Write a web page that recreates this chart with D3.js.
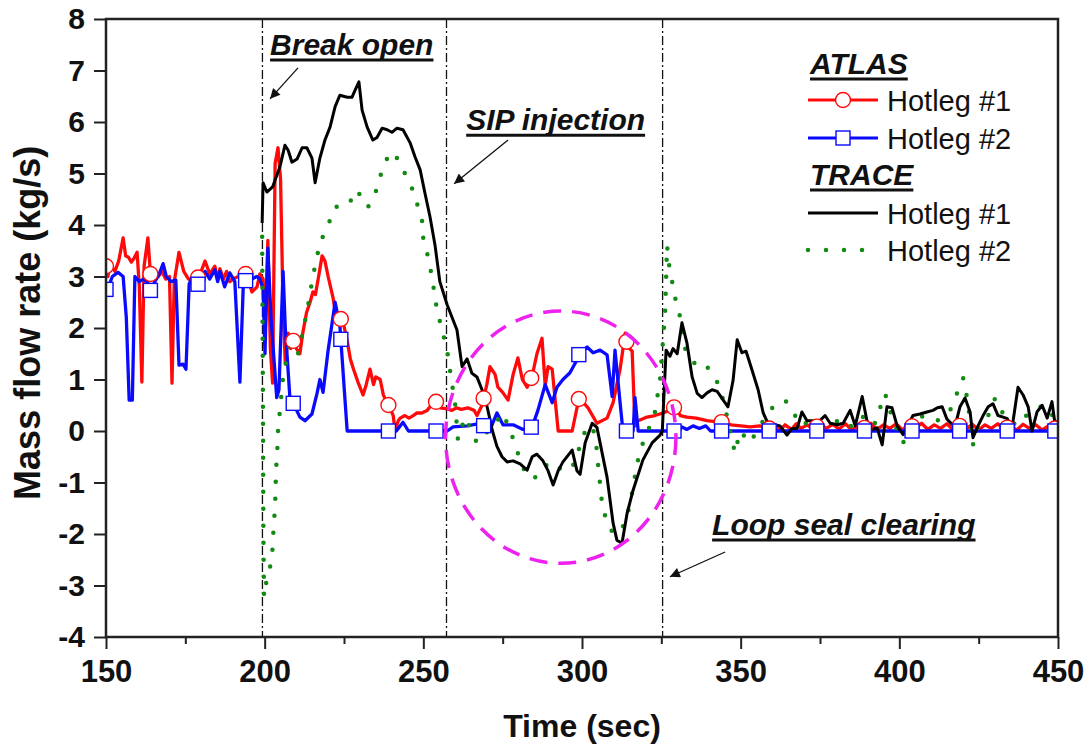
<!DOCTYPE html>
<html lang="en">
<head>
<meta charset="UTF-8">
<title>Mass flow rate - ATLAS vs TRACE</title>
<script src="https://d3js.org/d3.v7.min.js"></script>
<style>
  body { margin: 0; background: #fff; font-family: Arial, "Liberation Sans", sans-serif; }
  .tick text { font-family: Arial, "Liberation Sans", sans-serif; font-weight: bold; fill: #111; }
  .tick line { stroke: #222; stroke-width: 2; }
  .domain { display: none; }
</style>
</head>
<body>
<div id="chart"></div>
<script>
// axis ticks
const xTicks = [150, 200, 250, 300, 350, 400, 450];
const xMinor = [175, 225, 275, 325, 375, 425];
const yTicks = [-4, -3, -2, -1, 0, 1, 2, 3, 4, 5, 6, 7, 8];

// event lines (sec)
const eventTimes = [199.3, 257.3, 325.4];

// symbol positions (sec)
const markerTimes = [150, 164, 179, 194, 209, 224, 239, 254, 269, 284, 299, 314, 329, 344, 359, 374, 389, 404, 419, 434, 449];

// ATLAS hotleg #1 [time, kg/s]
const atlas1 = [
  [150,3.2],[150.6,3.0],[151.2,3.25],[152.8,3.1],[154,3.3],[155.4,3.75],[156.2,3.4],[157,3.38],[158,3.28],
  [158.8,3.35],[159.8,3.47],[160.5,2.8],[161.3,0.95],[162,3.2],[163.2,3.75],[164,3.05],[165.4,2.95],[166.5,3.0],
  [167.6,3.1],[168.8,2.95],[170,3.0],[170.8,0.93],[171.5,2.9],[173,3.47],[174.5,3.1],[176,2.95],[177.5,2.95],
  [179,2.98],[180,3.1],[181.2,3.3],[182.7,3.05],[184.3,3.2],[185.2,2.95],[185.9,3.15],[187,2.95],[188,3.1],
  [189,2.9],[190,2.95],[191.7,3.0],[193,3.1],[194,3.05],[195,2.9],[196,2.7],[197.6,2.8],[198.5,3.05],[199.5,2.95],
  [200.2,2.0],[201,3.7],[201.8,1.6],[202.5,0.93],[203.3,5.2],[204.2,5.5],[205,4.9],[205.8,2.4],[206.5,1.3],
  [207.4,1.9],[208.2,1.6],[209,1.75],[210,1.6],[211.1,1.5],[212,1.9],[213.2,2.3],[214.3,2.5],[215.2,2.7],
  [216,2.65],[217,3.0],[218.1,3.4],[219,3.3],[220,3.0],[221.5,2.6],[222.8,2.1],[224.4,2.2],[226,1.75],[227,1.4],
  [228,1.2],[229.4,0.95],[231,0.7],[232,0.9],[233.2,1.2],[234.3,0.9],[235,1.05],[236.4,1.0],[237.4,0.7],
  [238.6,0.55],[239.5,0.45],[240.5,0.3],[241.1,0.0],[242.1,0.2],[242.7,0.25],[244.2,0.3],[245.5,0.25],
  [246.8,0.3],[248,0.35],[249.5,0.35],[251.2,0.4],[252.5,0.5],[254.3,0.58],[255.3,0.45],[257.5,0.43],[259,0.4],
  [260.5,0.45],[262,0.42],[264,0.45],[266,0.4],[266.9,0.3],[268.5,0.5],[270,0.9],[271,1.25],[272.6,1.1],
  [273.5,0.85],[275,0.75],[276.7,0.6],[278.3,1.1],[279.8,1.42],[281.2,1.0],[282.7,0.85],[284.3,1.07],[285.8,1.5],
  [287.4,1.8],[288.4,0.88],[289.3,1.25],[290.6,1.2],[292.5,0.0],[296.9,0.0],[299.1,0.65],[301.9,0.45],
  [304.7,0.15],[307.9,0.25],[309.8,0.55],[312,1.2],[313.6,1.9],[314.2,1.65],[315.8,1.55],[316.7,0.1],
  [317.7,0.2],[320.5,0.27],[323,0.3],[325.5,0.35],[327.5,0.4],[329.3,0.47],[331,0.3],[333,0.27],[336,0.25],
  [339.4,0.2],[342,0.18],[344.5,0.17],[347,0.12],[350,0.1],[353,0.08],[356,0.1],[359,0.05],[361,0.1],
  [362.5,0.02],[364,0.12],[366,0.03],[367.5,0.14],[369,0.05],[371,0.12],[373,0.02],[375,0.15],[377,0.05],
  [379,0.13],[381,0.04],[383,0.14],[385,0.02],[387,0.12],[389,0.06],[391,0.15],[393,0.03],[395,0.12],
  [397,0.05],[399,0.14],[401,0.02],[403,0.13],[405,0.05],[407,0.15],[409,0.03],[411,0.12],[413,0.05],
  [415,0.14],[417,0.02],[419,0.1],[421,0.04],[423,0.13],[425,0.02],[427,0.12],[429,0.05],[431,0.14],
  [433,0.03],[435,0.1],[437,0.02],[439,0.13],[441,0.05],[443,0.12],[445,0.02],[447,0.1],[449,0.05],[450,0.08]
];

// ATLAS hotleg #2
const atlas2 = [
  [150,2.75],[150.8,2.8],[152,3.0],[153.8,3.08],[155.4,3.0],[156.4,2.2],[157.3,0.6],[158.3,0.6],[159.1,3.0],
  [160.5,2.9],[161.8,2.95],[163,2.9],[164,2.73],[165.4,2.9],[166.8,3.05],[168,3.25],[169,3.0],[170.5,2.9],
  [172,2.93],[173,1.28],[174.3,1.3],[175.2,1.2],[176.2,2.85],[177.2,3.0],[179,2.85],[180,2.95],[181.2,3.1],
  [182.7,2.95],[184.3,3.13],[185.2,2.9],[185.9,3.1],[187.4,2.8],[189,3.07],[190.6,2.9],[192.2,0.95],[193.3,2.9],
  [194,2.92],[196,2.95],[197.5,3.0],[198.5,2.95],[199.5,2.75],[200.1,1.5],[201,3.55],[202,2.2],[203.8,0.65],
  [204.5,0.8],[205.8,3.1],[206.5,2.0],[208,0.6],[208.9,0.55],[211.1,0.27],[212.7,0.2],[214.9,0.33],[216.5,0.73],
  [217.4,1.0],[218.4,0.75],[220,1.57],[222.2,2.5],[223.7,2.05],[224.4,1.42],[226,0.0],[241.5,0.0],[243.6,0.17],
  [245.3,0.0],[257.5,0.0],[259.4,0.08],[263.8,0.1],[267.9,0.15],[271,0.02],[273.2,0.35],[275.1,0.12],
  [278.3,0.12],[281.4,0.03],[284.3,0.08],[286.1,0.4],[288.4,0.9],[290.6,0.55],[292.1,0.85],[294,1.0],
  [296.2,1.13],[298.4,1.38],[299.1,1.5],[301.6,1.63],[303.5,1.52],[305.7,1.57],[307.9,1.48],[309.5,0.67],
  [310.4,1.57],[312,0.55],[312.9,0.0],[316.1,0.0],[316.7,0.65],[317.7,0.0],[330.5,0.0],[331.5,0.08],[333,0.03],
  [335,0.1],[337,0.05],[339,0.1],[340.5,0.0],[450,0.0]
];

// TRACE hotleg #1
const trace1 = [
  [199.2,4.04],[199.5,4.82],[200.7,4.64],[202.5,4.74],[204.8,5.13],[206.4,5.55],[207.4,5.45],[208.6,5.22],
  [210.2,5.28],[211.8,5.5],[213.3,5.5],[214.9,5.3],[215.9,4.82],[217.4,5.3],[219,5.65],[220.6,5.9],[222.2,6.3],
  [223.7,6.52],[226,6.48],[227.5,6.48],[228.5,6.62],[229.7,6.78],[230.7,6.23],[232.3,5.9],[234.1,5.65],
  [235.4,5.7],[237,5.88],[238.6,5.85],[240.1,5.8],[241.7,5.88],[243.6,5.85],[245.8,5.6],[247.4,5.32],[249,5.07],
  [250.5,4.62],[252.1,4.16],[253.7,3.6],[255.2,2.9],[257.5,2.45],[260.6,1.96],[262.2,1.25],[263.8,1.4],
  [265.3,1.12],[266.9,1.05],[268.5,0.8],[270.1,0.47],[271.7,0.02],[273.2,-0.3],[274.8,-0.5],[276.4,-0.6],
  [278.3,-0.58],[280.5,-0.64],[282.7,-0.76],[284.3,-0.5],[285.8,-0.45],[287.7,-0.58],[289.3,-0.77],[290.9,-1.05],
  [292.5,-0.77],[294,-0.6],[296.9,-0.37],[298.4,-0.77],[299.4,-0.84],[301,-0.23],[303.2,0.15],[304.7,0.07],
  [305.7,-0.23],[307.9,-0.9],[309.8,-1.79],[311,-2.12],[312.6,-2.18],[314.2,-1.6],[316.1,-1.15],[319.2,-0.56],
  [322.1,-0.23],[324.6,-0.08],[325.3,0.0],[326.5,1.57],[327.7,1.45],[328.7,1.6],[330,1.5],[331.5,2.1],
  [333.1,1.7],[334.7,1.05],[336.3,0.73],[337.8,0.65],[339.4,0.74],[341,0.8],[342.6,0.77],[344.5,0.6],[346,0.47],
  [347.6,0.98],[348.9,1.77],[350.4,1.52],[351.7,1.55],[353.6,1.18],[355.5,0.8],[357.1,0.35],[358.6,0.15],
  [360.8,0.12],[362.4,0.1],[364.6,-0.08],[366.2,0.05],[367.8,0.05],[369.3,0.37],[370.9,0.2],[372.8,0.2],
  [374.4,0.17],[376.6,0.3],[378.2,0.15],[380.4,0.12],[382.3,0.15],[384.5,0.4],[386.1,0.1],[388.3,0.67],
  [389.8,0.2],[391.4,0.03],[393,0.06],[394.6,-0.27],[396.1,0.47],[397.7,0.45],[399.3,0.1],[401.2,-0.07],
  [402.8,0.12],[404.3,0.3],[406.5,0.33],[408.7,0.37],[410.6,0.4],[412,0.45],[413.5,0.47],[415,0.23],
  [416.6,0.13],[418,0.2],[419.1,0.47],[420.7,0.64],[422.3,0.37],[423.2,-0.13],[424.8,0.1],[426.4,0.3],
  [428,0.47],[429.5,0.53],[431.1,0.3],[432.7,0.27],[434,0.24],[435.5,0.05],[437.4,0.85],[439,0.7],[440.6,0.47],
  [441.8,0.0],[443.4,0.37],[445,0.5],[446.6,0.25],[448.1,0.57],[449.1,0.12],[450,0.2]
];

// TRACE hotleg #2
const trace2 = [
  [199.2,3.77],[199.5,0.0],[199.6,-2.0],[199.8,-3.22],[200.7,-2.86],[202.3,-2.5],[202.6,-2.1],[203.3,-1.44],
  [203.6,-0.72],[203.9,-0.5],[204.2,0.0],[205.8,1.05],[208,1.7],[210.5,1.5],[213.3,2.3],[215.2,3.0],[217.4,3.65],
  [220,4.0],[222.2,4.35],[226,4.37],[229.4,4.68],[230.7,4.45],[232.6,4.35],[235.4,4.7],[237,5.07],[239.5,5.42],
  [241.7,5.3],[244.2,5.0],[246.4,4.72],[248,4.42],[249.6,4.08],[250,3.72],[251.5,3.38],[252.7,3.0],[254.3,2.35],
  [255.9,1.96],[257.5,1.57],[259,0.93],[260,0.54],[260.9,-0.17],[263.1,0.27],[266.9,-0.23],[268.8,-0.1],
  [272,0.1],[275.1,0.35],[278,-0.1],[280.5,-0.56],[282.7,-0.9],[285.8,-0.9],[289,-0.65],[290.9,-0.6],
  [293.7,-0.77],[295.6,-0.77],[297.8,-0.62],[299.4,-0.27],[301.6,0.1],[303.5,0.05],[304.7,-0.37],[305.1,-0.68],
  [306.3,-1.4],[307.9,-1.8],[309.8,-1.98],[312,-1.98],[314.2,-1.67],[315.8,-1.2],[317.4,-0.62],[319.2,-0.23],
  [321.4,0.1],[323,0.37],[324.6,1.0],[326.2,2.3],[326.8,3.6],[327.5,3.2],[329.3,2.6],[330.9,2.22],[332.5,1.6],
  [335.6,1.3],[337.5,1.2],[339.4,1.25],[342.6,0.95],[344.5,0.6],[346,0.2],[348.2,-0.43],[349.8,0.0],[353,-0.23],
  [356,0.1],[360.2,0.47],[364,0.6],[366.5,0.37],[369,0.1],[372,0.2],[376,0.1],[380,0.2],[384,0.05],[388,0.3],
  [392,0.1],[395.5,0.73],[398,0.2],[401.2,-0.23],[404,0.2],[408,0.3],[412,0.2],[416,0.4],[420.1,1.03],
  [421.5,0.6],[423.2,-0.27],[425,0.1],[428,0.3],[430.2,0.64],[433,0.3],[437,0.1],[440,0.3],[445.3,0.5],
  [448,0.3],[450,0.4]
];

const width = 1092, height = 748;
const margin = {top: 19, right: 34, bottom: 111, left: 106};

const svg = d3.select("#chart").append("svg")
  .attr("width", width)
  .attr("height", height);

const x = d3.scaleLinear().domain([150, 450]).range([margin.left, width - margin.right]);
const y = d3.scaleLinear().domain([-4, 8]).range([height - margin.bottom, margin.top]);

const defs = svg.append("defs");
defs.append("clipPath").attr("id", "plot")
  .append("rect")
  .attr("x", x(150)).attr("y", y(8))
  .attr("width", x(450) - x(150)).attr("height", y(-4) - y(8));

defs.append("marker")
  .attr("id", "arrow")
  .attr("viewBox", "0 0 10 10")
  .attr("refX", 10).attr("refY", 5)
  .attr("markerWidth", 15).attr("markerHeight", 10)
  .attr("markerUnits", "userSpaceOnUse")
  .attr("orient", "auto")
  .append("path").attr("d", "M0,0 L10,5 L0,10 z").attr("fill", "#111");

// axes (plain hyphen for negatives, like the original)
const fmt = d => String(d);

svg.append("g")
  .attr("transform", `translate(0,${y(-4)})`)
  .call(d3.axisBottom(x).tickValues(xTicks).tickSize(12).tickPadding(11).tickFormat(fmt))
  .call(g => g.selectAll(".tick text").style("font-size", "31px"));

svg.append("g")
  .attr("transform", `translate(0,${y(-4)})`)
  .call(d3.axisBottom(x).tickValues(xMinor).tickSize(7).tickFormat(""));

svg.append("g")
  .attr("transform", `translate(${x(150)},0)`)
  .call(d3.axisLeft(y).tickValues(yTicks).tickSize(12).tickPadding(9).tickFormat(fmt))
  .call(g => g.selectAll(".tick text").style("font-size", "30px"));

// event lines
svg.append("g").selectAll("line")
  .data(eventTimes)
  .join("line")
  .attr("x1", d => x(d)).attr("x2", d => x(d))
  .attr("y1", y(8)).attr("y2", y(-4))
  .attr("stroke", "#111")
  .attr("stroke-width", 1.3)
  .attr("stroke-dasharray", "9 3 2 3");

const line = d3.line().x(d => x(d[0])).y(d => y(d[1]));
const plot = svg.append("g").attr("clip-path", "url(#plot)");

function valueAt(series, t) {
  const i = d3.bisector(d => d[0]).left(series, t);
  if (i <= 0) return series[0][1];
  if (i >= series.length) return series[series.length - 1][1];
  const a = series[i - 1], b = series[i];
  return a[1] + (b[1] - a[1]) * (t - a[0]) / (b[0] - a[0]);
}

plot.append("path").datum(atlas1)
  .attr("fill", "none").attr("stroke", "#ff0a0a").attr("stroke-width", 3.3)
  .attr("stroke-linejoin", "round").attr("d", line);

plot.append("path").datum(atlas2)
  .attr("fill", "none").attr("stroke", "#0a0aff").attr("stroke-width", 3.3)
  .attr("stroke-linejoin", "round").attr("d", line);

plot.append("path").datum(trace2)
  .attr("fill", "none").attr("stroke", "#138a13").attr("stroke-width", 4.5)
  .attr("stroke-linecap", "round").attr("stroke-dasharray", "0 17")
  .attr("d", line);

plot.append("path").datum(trace1)
  .attr("fill", "none").attr("stroke", "#000").attr("stroke-width", 3)
  .attr("stroke-linejoin", "round").attr("d", line);

plot.selectAll("circle.m1")
  .data(markerTimes)
  .join("circle")
  .attr("class", "m1")
  .attr("cx", d => x(d)).attr("cy", d => y(valueAt(atlas1, d)))
  .attr("r", 7.5)
  .attr("fill", "#fff").attr("stroke", "#ff0a0a").attr("stroke-width", 1.4);

plot.selectAll("rect.m2")
  .data(markerTimes)
  .join("rect")
  .attr("class", "m2")
  .attr("x", d => x(d) - 7).attr("y", d => y(valueAt(atlas2, d)) - 7)
  .attr("width", 14).attr("height", 14)
  .attr("fill", "#fff").attr("stroke", "#0a0aff").attr("stroke-width", 1.4);

// dashed ellipse round the region of interest
plot.append("ellipse")
  .attr("cx", x(293.3)).attr("cy", y(-0.12))
  .attr("rx", x(293.3 + 36.3) - x(293.3)).attr("ry", y(-0.12) - y(2.33))
  .attr("fill", "none").attr("stroke", "#ee22ee")
  .attr("stroke-width", 3.5).attr("stroke-dasharray", "18 11");

// frame
svg.append("rect")
  .attr("x", x(150)).attr("y", y(8))
  .attr("width", x(450) - x(150)).attr("height", y(-4) - y(8))
  .attr("fill", "none").attr("stroke", "#222").attr("stroke-width", 2.5);

// underlined italic labels
function headText(px, py, txt, size) {
  const t = svg.append("text")
    .attr("x", px).attr("y", py)
    .style("font-size", size + "px").style("font-weight", "bold").style("font-style", "italic")
    .attr("fill", "#111").text(txt);
  const w = t.node().getComputedTextLength();
  svg.append("line")
    .attr("x1", px).attr("x2", px + w)
    .attr("y1", py + 5).attr("y2", py + 5)
    .attr("stroke", "#111").attr("stroke-width", 3);
}

const notes = [
  {text: "Break open", t: 201.7, v: 7.3, from: [210.5, 7.05], to: [201.7, 6.45]},
  {text: "SIP injection", t: 263.5, v: 5.84, from: [276.7, 5.65], to: [259.7, 4.8]},
  {text: "Loop seal clearing", t: 341, v: -2.02, from: [345.1, -2.35], to: [327.7, -2.83]}
];
notes.forEach(n => {
  headText(x(n.t), y(n.v), n.text, 30);
  svg.append("line")
    .attr("x1", x(n.from[0])).attr("y1", y(n.from[1]))
    .attr("x2", x(n.to[0])).attr("y2", y(n.to[1]))
    .attr("stroke", "#111").attr("stroke-width", 1.3)
    .attr("marker-end", "url(#arrow)");
});

// axis titles
svg.append("text")
  .attr("x", x(300)).attr("y", 737)
  .attr("text-anchor", "middle")
  .style("font-size", "32px").style("font-weight", "bold")
  .attr("fill", "#111").text("Time (sec)");

svg.append("text")
  .attr("transform", `translate(40,${y(2.1)}) rotate(-90)`)
  .attr("text-anchor", "middle")
  .style("font-size", "36px").style("font-weight", "bold")
  .attr("fill", "#111").text("Mass flow rate (kg/s)");

// legend
const lx = 808, lw = 70;
headText(810, 74, "ATLAS", 30);
headText(810, 185, "TRACE", 30);

const legendRows = [
  {y: 100, label: "Hotleg #1", color: "#ff0a0a", kind: "circle"},
  {y: 138, label: "Hotleg #2", color: "#0a0aff", kind: "square"},
  {y: 213, label: "Hotleg #1", color: "#000", kind: "solid"},
  {y: 250, label: "Hotleg #2", color: "#138a13", kind: "dot"}
];
const leg = svg.append("g");
legendRows.forEach(r => {
  const l = leg.append("line")
    .attr("x1", lx).attr("x2", lx + lw).attr("y1", r.y).attr("y2", r.y)
    .attr("stroke", r.color).attr("stroke-width", r.kind === "dot" ? 4.5 : 3);
  if (r.kind === "dot") l.attr("stroke-dasharray", "0 18").attr("stroke-linecap", "round").attr("x2", lx + 62);
  if (r.kind === "circle") {
    leg.append("circle").attr("cx", lx + lw / 2).attr("cy", r.y).attr("r", 7.5)
      .attr("fill", "#fff").attr("stroke", r.color).attr("stroke-width", 1.4);
  }
  if (r.kind === "square") {
    leg.append("rect").attr("x", lx + lw / 2 - 7).attr("y", r.y - 7).attr("width", 14).attr("height", 14)
      .attr("fill", "#fff").attr("stroke", r.color).attr("stroke-width", 1.4);
  }
  leg.append("text")
    .attr("x", 887).attr("y", r.y + 11)
    .style("font-size", "29px")
    .attr("fill", "#111").text(r.label);
});
</script>
</body>
</html>
